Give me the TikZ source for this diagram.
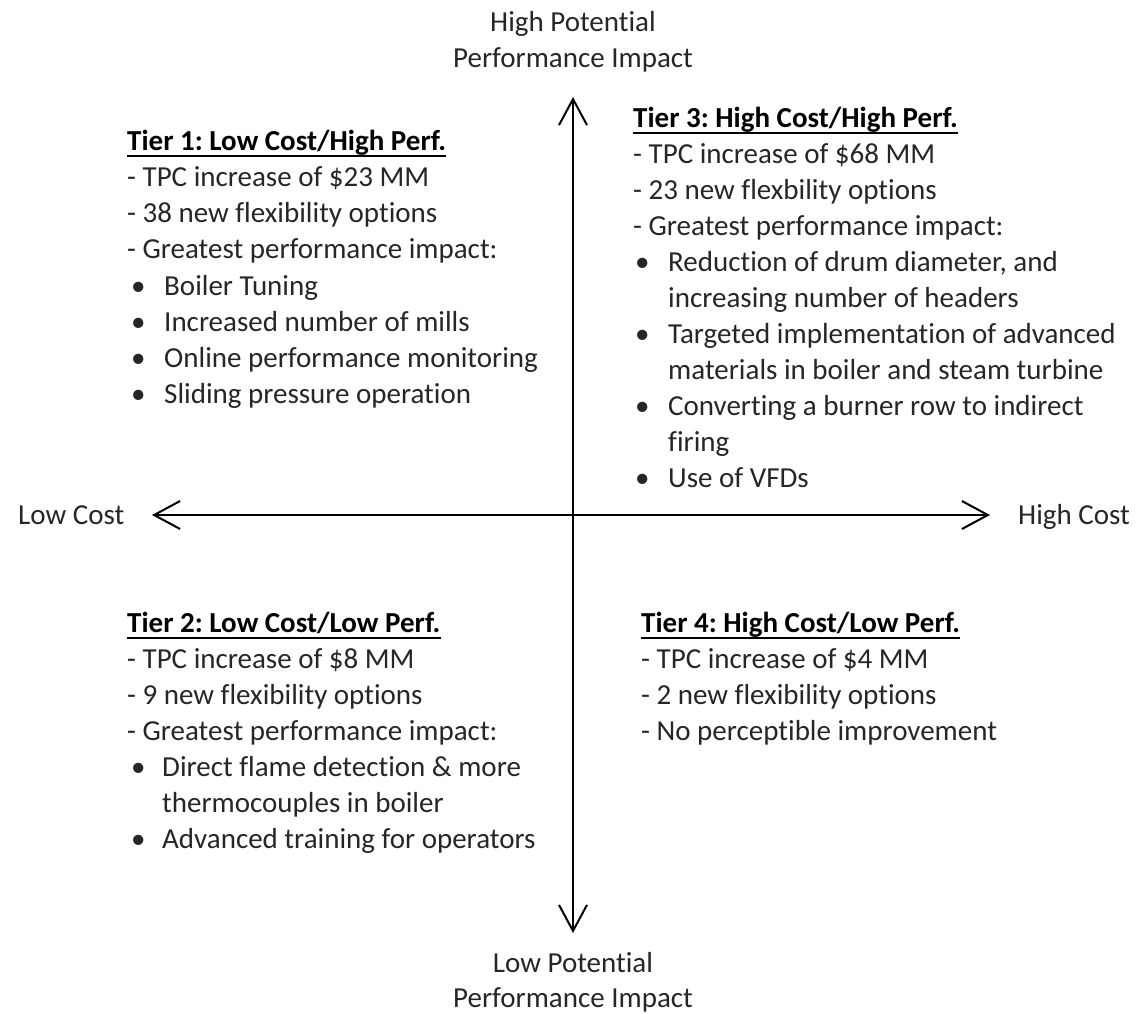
\documentclass[tikz,border=0pt]{standalone}
\usepackage{fontspec}
\setmainfont{Carlito}[Ligatures={NoCommon,NoRare,NoContextual},RawFeature=-calt]
\usetikzlibrary{arrows.meta,calc}
\definecolor{textgray}{RGB}{38,38,38}
\newcommand{\bodyfnt}{\fontsize{29}{36}\selectfont}
\frenchspacing
\tikzset{
  txt/.style={anchor=base west, inner sep=0pt, font=\bodyfnt, text=textgray},
  ttl/.style={anchor=base west, inner sep=0pt, font=\bodyfnt\bfseries, text=black},
  axlbl/.style={anchor=base, inner sep=0pt, font=\bodyfnt, text=textgray},
  axisline/.style={line width=2pt, draw=black, {Straight Barb[length=26pt,width=28pt,line width=2pt]}-{Straight Barb[length=26pt,width=28pt,line width=2pt]}},
  uline/.style={line width=1.8pt, draw=black}
}
\begin{document}
\frenchspacing
\begin{tikzpicture}[x=1pt,y=-1pt]
\useasboundingbox (0,0) rectangle (1137,1013);
% axes
\coordinate (top) at (573,97);
\coordinate (bot) at (573,933);
\coordinate (lft) at (152,515);
\coordinate (rgt) at (990,515);
\draw[axisline] (lft) -- (rgt);
\draw[axisline] (top) -- (bot);
% axis labels
\node[axlbl] (hp1) at (573,31) {High Potential};
\node[axlbl] (hp2) at (573,67) {Performance Impact};
\node[axlbl] (lp1) at (573,972) {Low Potential};
\node[axlbl] (lp2) at (573,1007) {Performance Impact};
\node[txt] (lc) at (18,524) {Low Cost};
\node[txt] (hc) at (1018,524) {High Cost};
% Tier 1
\node[ttl] (t1) at (127,150) {Tier 1: Low Cost/High Perf.};
\draw[uline] ($(t1.base west)+(0,6)$) -- ($(t1.base east)+(0,6)$);
\node[txt] (t1a) at (127,186) {- TPC increase of \$23 MM};
\node[txt] (t1b) at (127,222) {- 38 new flexibility options};
\node[txt] (t1c) at (127,258) {- Greatest performance impact:};
\node[txt] (t1d) at (131,295) {•};
\node[txt] (t1dt) at (164,295) {Boiler Tuning};
\node[txt] (t1e) at (131,331) {•};
\node[txt] (t1et) at (164,331) {Increased number of mills};
\node[txt] (t1f) at (131,367) {•};
\node[txt] (t1ft) at (164,367) {Online performance monitoring};
\node[txt] (t1g) at (131,403) {•};
\node[txt] (t1gt) at (164,403) {Sliding pressure operation};
% Tier 3
\node[ttl] (t3) at (633,127) {Tier 3: High Cost/High Perf.};
\draw[uline] ($(t3.base west)+(0,6)$) -- ($(t3.base east)+(0,6)$);
\node[txt] (t3a) at (633,163) {- TPC increase of \$68 MM};
\node[txt] (t3b) at (633,199) {- 23 new flexbility options};
\node[txt] (t3c) at (633,235) {- Greatest performance impact:};
\node[txt] (t3d) at (635,271) {•};
\node[txt] (t3dt) at (668,271) {Reduction of drum diameter, and};
\node[txt] (t3dt2) at (668,307) {increasing number of headers};
\node[txt] (t3e) at (635,343) {•};
\node[txt] (t3et) at (668,343) {Targeted implementation of advanced};
\node[txt] (t3et2) at (668,379) {materials in boiler and steam turbine};
\node[txt] (t3f) at (635,415) {•};
\node[txt] (t3ft) at (668,415) {Converting a burner row to indirect};
\node[txt] (t3ft2) at (668,451) {firing};
\node[txt] (t3g) at (635,487) {•};
\node[txt] (t3gt) at (668,487) {Use of VFDs};
% Tier 2
\node[ttl] (t2) at (127,632) {Tier 2: Low Cost/Low Perf.};
\draw[uline] ($(t2.base west)+(0,6)$) -- ($(t2.base east)+(0,6)$);
\node[txt] (t2a) at (127,668) {- TPC increase of \$8 MM};
\node[txt] (t2b) at (127,704) {- 9 new flexibility options};
\node[txt] (t2c) at (127,740) {- Greatest performance impact:};
\node[txt] (t2d) at (131,776) {•};
\node[txt] (t2dt) at (162,776) {Direct flame detection \& more};
\node[txt] (t2dt2) at (162,812) {thermocouples in boiler};
\node[txt] (t2e) at (131,848) {•};
\node[txt] (t2et) at (162,848) {Advanced training for operators};
% Tier 4
\node[ttl] (t4) at (641,632) {Tier 4: High Cost/Low Perf.};
\draw[uline] ($(t4.base west)+(0,6)$) -- ($(t4.base east)+(0,6)$);
\node[txt] (t4a) at (641,668) {- TPC increase of \$4 MM};
\node[txt] (t4b) at (641,704) {- 2 new flexibility options};
\node[txt] (t4c) at (641,740) {- No perceptible improvement};
\end{tikzpicture}
\end{document}
